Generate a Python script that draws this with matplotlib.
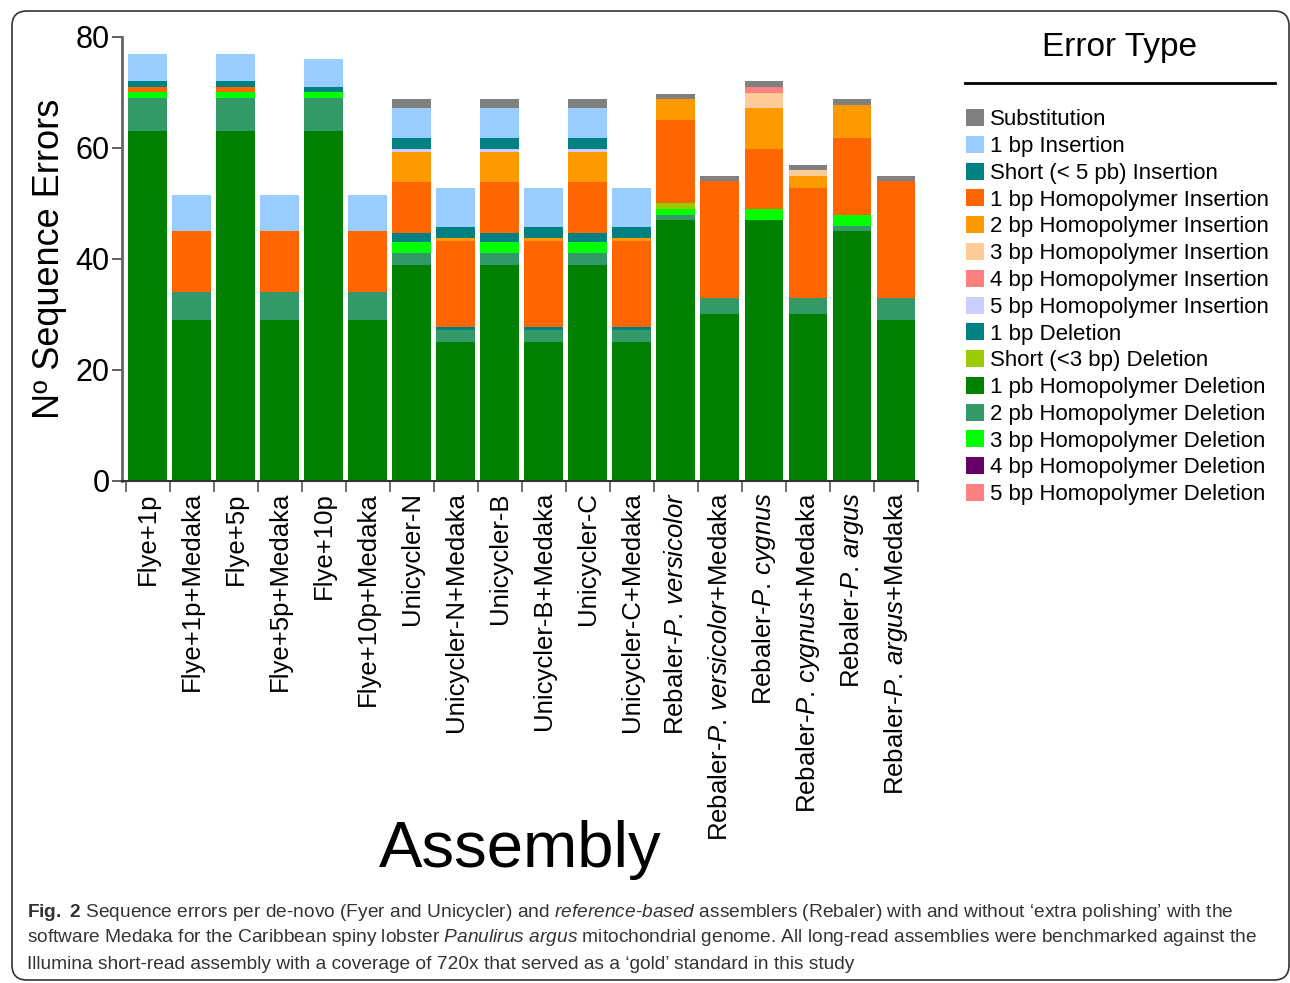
import numpy as np
import matplotlib.pyplot as plt
from matplotlib.patches import Patch, FancyBboxPatch
from matplotlib.lines import Line2D

plt.rcParams['font.family'] = ['Liberation Sans', 'DejaVu Sans']
plt.rcParams['mathtext.fontset'] = 'custom'
plt.rcParams['mathtext.rm'] = 'Liberation Sans'
plt.rcParams['mathtext.it'] = 'Liberation Sans:italic'
plt.rcParams['mathtext.bf'] = 'Liberation Sans:bold'

assemblies = [
    'Flye+1p', 'Flye+1p+Medaka', 'Flye+5p', 'Flye+5p+Medaka',
    'Flye+10p', 'Flye+10p+Medaka', 'Unicycler-N', 'Unicycler-N+Medaka',
    'Unicycler-B', 'Unicycler-B+Medaka', 'Unicycler-C', 'Unicycler-C+Medaka',
    r'Rebaler-$\it{P}$. $\it{versicolor}$', r'Rebaler-$\it{P}$. $\it{versicolor}$+Medaka',
    r'Rebaler-$\it{P}$. $\it{cygnus}$', r'Rebaler-$\it{P}$. $\it{cygnus}$+Medaka',
    r'Rebaler-$\it{P}$. $\it{argus}$', r'Rebaler-$\it{P}$. $\it{argus}$+Medaka',
]

# error counts per assembly
substitution = [0, 0, 0, 0, 0, 0, 1.6, 0, 1.6, 0, 1.6, 0, 1, 1, 1.1, 1, 1.1, 1]
ins_1bp = [5, 6.5, 5, 6.5, 5, 6.5, 5.4, 7, 5.4, 7, 5.4, 7, 0, 0, 0, 0, 0, 0]
ins_short = [1, 0, 1, 0, 1, 0, 2, 2, 2, 2, 2, 2, 0, 0, 0, 0, 0, 0]
hi_1bp = [1, 11, 1, 11, 0, 11, 9.2, 15.5, 9.2, 15.5, 9.2, 15.5, 15, 21, 10.8, 19.8, 13.8, 21]
hi_2bp = [0, 0, 0, 0, 0, 0, 5.4, 0.5, 5.4, 0.5, 5.4, 0.5, 3.8, 0, 7.4, 2.2, 5.9, 0]
hi_3bp = [0, 0, 0, 0, 0, 0, 0, 0, 0, 0, 0, 0, 0, 0, 2.7, 1, 0, 0]
hi_4bp = [0, 0, 0, 0, 0, 0, 0, 0, 0, 0, 0, 0, 0, 0, 1.1, 0, 0, 0]
hi_5bp = [0, 0, 0, 0, 0, 0, 0.5, 0, 0.5, 0, 0.5, 0, 0, 0, 0, 0, 0, 0]
del_1bp = [0, 0, 0, 0, 0, 0, 1.7, 0.5, 1.7, 0.5, 1.7, 0.5, 0, 0, 0, 0, 0, 0]
del_short = [0, 0, 0, 0, 0, 0, 0, 0, 0, 0, 0, 0, 1, 0, 0, 0, 0, 0]
hd_1bp = [63, 29, 63, 29, 63, 29, 39, 25, 39, 25, 39, 25, 47, 30, 47, 30, 45, 29]
hd_2bp = [6, 5, 6, 5, 6, 5, 2, 2.2, 2, 2.2, 2, 2.2, 1, 3, 0, 3, 1, 4]
hd_3bp = [1, 0, 1, 0, 1, 0, 2, 0, 2, 0, 2, 0, 1, 0, 2, 0, 2, 0]
hd_4bp = [0] * 18
hd_5bp = [0] * 18

# legend order (top to bottom)
error_types = [
    ('Substitution', substitution, '#808080'),
    ('1 bp Insertion', ins_1bp, '#99CCFF'),
    ('Short (< 5 pb) Insertion', ins_short, '#008080'),
    ('1 bp Homopolymer Insertion', hi_1bp, '#FF6600'),
    ('2 bp Homopolymer Insertion', hi_2bp, '#FF9900'),
    ('3 bp Homopolymer Insertion', hi_3bp, '#FFCC99'),
    ('4 bp Homopolymer Insertion', hi_4bp, '#FF8080'),
    ('5 bp Homopolymer Insertion', hi_5bp, '#CCCCFF'),
    ('1 bp Deletion', del_1bp, '#008080'),
    ('Short (<3 bp) Deletion', del_short, '#99CC00'),
    ('1 pb Homopolymer Deletion', hd_1bp, '#008000'),
    ('2 pb Homopolymer Deletion', hd_2bp, '#339966'),
    ('3 bp Homopolymer Deletion', hd_3bp, '#00FF00'),
    ('4 bp Homopolymer Deletion', hd_4bp, '#660066'),
    ('5 bp Homopolymer Deletion', hd_5bp, '#FF8080'),
]
# stacking order, bottom to top
stack_order = [10, 11, 12, 13, 14, 9, 8, 3, 4, 5, 6, 7, 2, 1, 0]

fig = plt.figure(figsize=(12.9, 9.83), dpi=100)
ax = fig.add_axes([0.0946, 0.5107, 0.617, 0.4517])

x = np.arange(len(assemblies))
bottom = np.zeros(len(assemblies))
for idx in stack_order:
    label, vals, color = error_types[idx]
    vals = np.array(vals, dtype=float)
    ax.bar(x, vals, bottom=bottom, width=0.88, color=color, linewidth=0)
    bottom += vals

ax.set_xlim(-0.58, 17.46)
ax.set_ylim(0, 80)
ax.set_yticks([0, 20, 40, 60, 80])
ax.tick_params(axis='y', labelsize=22, length=7, width=1.2, color='#444444', pad=2)
ax.set_xticks(x)
ax.set_xticklabels(assemblies, rotation=90, fontsize=18.5)
ax.tick_params(axis='x', which='major', length=0, pad=8)
ax.set_xticks(np.arange(-0.5, 18, 1), minor=True)
ax.tick_params(axis='x', which='minor', length=8, width=1.2, color='#555555')
for s in ['top', 'right']:
    ax.spines[s].set_visible(False)
ax.spines['left'].set_color('#666666')
ax.spines['left'].set_linewidth(2)
ax.spines['bottom'].set_color('#333333')
ax.spines['bottom'].set_linewidth(1.5)
ax.set_ylabel('Nº Sequence Errors', fontsize=26, labelpad=6)
fig.text(0.403, 0.135, 'Assembly', fontsize=47, ha='center', va='center')

# legend
handles = [Patch(facecolor=c, edgecolor='none') for _, _, c in error_types]
labels = [l for l, _, _ in error_types]
fig.legend(handles, labels, loc='upper left', bbox_to_anchor=(0.749, 0.889),
           frameon=False, fontsize=16, handlelength=0.8, handleheight=0.8,
           handletextpad=0.25, labelspacing=0.25, borderpad=0, borderaxespad=0)
fig.text(0.868, 0.952, 'Error Type', fontsize=24, ha='center', va='center')
fig.add_artist(Line2D([0.748, 0.988], [0.916, 0.916], color='black', lw=2,
                      transform=fig.transFigure))

# caption
cap_kw = dict(fontsize=13.8, color='#333333', ha='left', va='center')
fig.text(0.021, 0.072, r'$\bf{Fig.\ 2}$ Sequence errors per de-novo (Fyer and Unicycler) and '
         r'$\it{reference}$-$\it{based}$ assemblers (Rebaler) with and without ‘extra polishing’ with the',
         **cap_kw)
fig.text(0.021, 0.046, r'software Medaka for the Caribbean spiny lobster $\it{Panulirus\ argus}$ '
         r'mitochondrial genome. All long-read assemblies were benchmarked against the', **cap_kw)
fig.text(0.021, 0.019, 'Illumina short-read assembly with a coverage of 720x that served as a ‘gold’ '
         'standard in this study', **cap_kw)

# rounded frame around the figure
frame = FancyBboxPatch((0.12, 0.03), 12.77, 9.69, boxstyle='round,pad=0,rounding_size=0.15',
                       transform=fig.dpi_scale_trans, facecolor='none',
                       edgecolor='#333333', lw=1.2)
fig.add_artist(frame)

fig.savefig('out.png', dpi=100)
